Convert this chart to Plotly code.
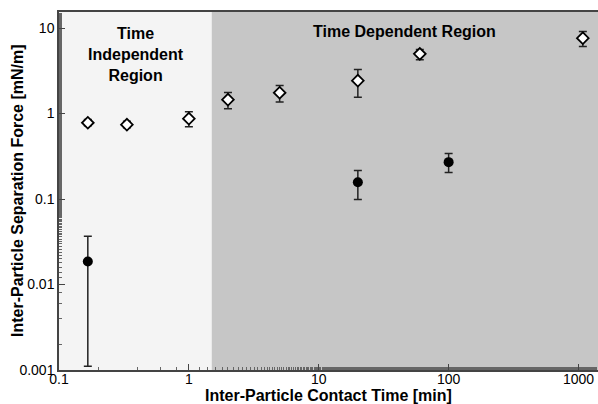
import plotly.graph_objects as go
import math

# Open diamonds
t_open = [0.1667, 0.3333, 1, 2, 5, 20, 60, 1080]
f_open = [0.78, 0.74, 0.87, 1.45, 1.75, 2.42, 4.99, 7.6]
f_open_hi = [0.85, 0.81, 1.05, 1.76, 2.12, 3.27, 5.6, 9.1]
f_open_lo = [0.72, 0.68, 0.70, 1.14, 1.36, 1.55, 4.25, 6.08]

# Filled circles
t_fill = [0.1667, 20, 100]
f_fill = [0.0186, 0.157, 0.27]
f_fill_hi = [0.0367, 0.216, 0.34]
f_fill_lo = [0.00111, 0.0986, 0.204]

boundary = 1.5
x_range = [0.1, 1413]
y_range = [0.001, 15.4]

x_ticks = [0.1, 1, 10, 100, 1000]
x_labels = ["0.1", "1", "10", "100", "1000"]
y_ticks = [0.001, 0.01, 0.1, 1, 10]
y_labels = ["0.001", "0.01", "0.1", "1", "10"]

FONT = "Liberation Sans, Arial, Helvetica"

fig = go.Figure()

def err(vals, hi, lo):
    return [h - v for v, h in zip(vals, hi)], [v - l for v, l in zip(vals, lo)]

up, dn = err(f_open, f_open_hi, f_open_lo)
fig.add_trace(go.Scatter(
    x=t_open, y=f_open, mode="markers",
    marker=dict(symbol="diamond", size=9, color="white", line=dict(color="black", width=1.8)),
    error_y=dict(type="data", symmetric=False, array=up, arrayminus=dn,
                 color="#222", thickness=1.5, width=4),
    showlegend=False))

up, dn = err(f_fill, f_fill_hi, f_fill_lo)
fig.add_trace(go.Scatter(
    x=t_fill, y=f_fill, mode="markers",
    marker=dict(symbol="circle", size=10, color="black"),
    error_y=dict(type="data", symmetric=False, array=up, arrayminus=dn,
                 color="#222", thickness=1.5, width=4),
    showlegend=False))

fig.add_shape(type="rect", xref="x", yref="paper", x0=x_range[0], x1=boundary, y0=0, y1=1,
              fillcolor="#f4f4f4", line_width=0, layer="below")
fig.add_shape(type="rect", xref="x", yref="paper", x0=boundary, x1=x_range[1], y0=0, y1=1,
              fillcolor="#c6c6c6", line_width=0, layer="below")

fig.add_annotation(x=math.log10(0.39), y=0.968, xref="x", yref="paper",
                   text="<b>Time<br>Independent<br>Region</b>", showarrow=False,
                   yanchor="top", font=dict(family=FONT, size=16, color="black"))
fig.add_annotation(x=math.log10(46), y=0.975, xref="x", yref="paper",
                   text="<b>Time Dependent Region</b>", showarrow=False,
                   yanchor="top", font=dict(family=FONT, size=16, color="black"))

# axis titles as annotations for precise placement
fig.add_annotation(x=0.5, y=0, xref="paper", yref="paper", yshift=-25,
                   text="<b>Inter-Particle Contact Time [min]</b>", showarrow=False,
                   yanchor="middle", font=dict(family=FONT, size=16, color="black"))
fig.add_annotation(x=0, y=0.5, xref="paper", yref="paper", xshift=-42,
                   text="<b>Inter-Particle Separation Force [mN/m]</b>", showarrow=False,
                   textangle=-90, xanchor="center", yanchor="middle",
                   font=dict(family=FONT, size=16, color="black"))

axis_common = dict(
    type="log", showgrid=False, zeroline=False,
    showline=True, linecolor="#444", linewidth=1.5,
    ticks="inside", ticklen=6, tickcolor="#444",
    minor=dict(ticks="inside", ticklen=3, tickcolor="#666", showgrid=False),
    tickfont=dict(family=FONT, size=14, color="black"),
)

fig.update_xaxes(**axis_common, mirror=True, ticklabelstandoff=-5,
                 range=[math.log10(x_range[0]), math.log10(x_range[1])],
                 tickvals=x_ticks, ticktext=x_labels)
fig.update_yaxes(**axis_common, mirror=False,
                 range=[math.log10(y_range[0]), math.log10(y_range[1])],
                 tickvals=y_ticks, ticktext=y_labels)

fig.update_layout(width=598, height=404, margin=dict(l=59, r=0, t=12, b=34),
                  paper_bgcolor="white", plot_bgcolor="white")

fig.write_html("out.html")
